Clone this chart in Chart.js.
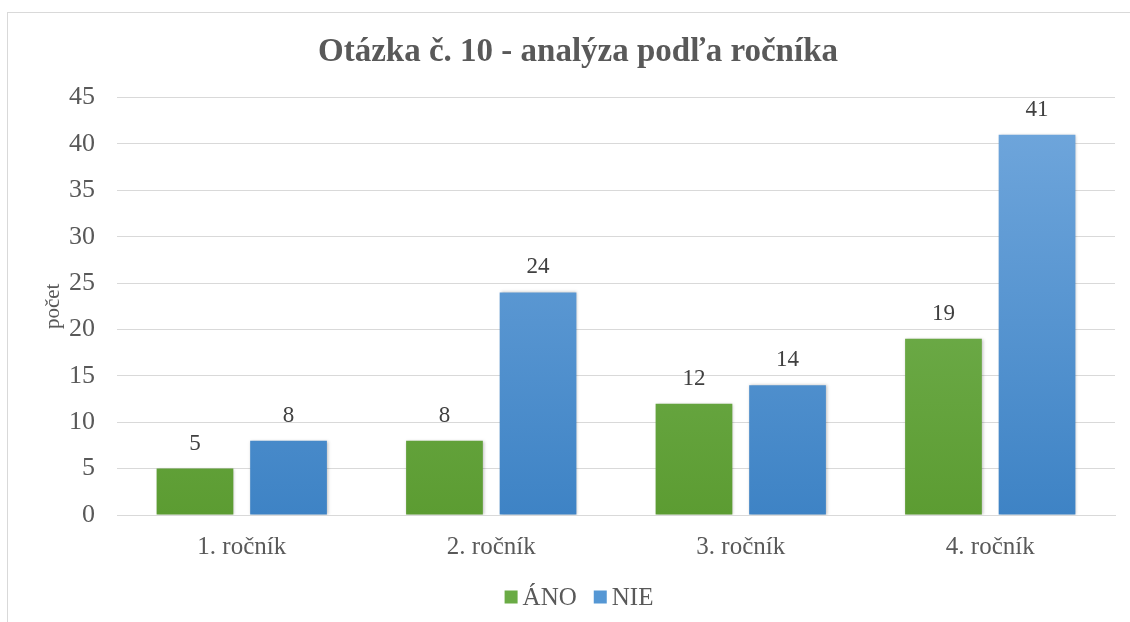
<!DOCTYPE html>
<html>
<head>
<meta charset="utf-8">
<script src="https://cdn.jsdelivr.net/npm/chart.js@4/dist/chart.umd.min.js"></script>
<style>
  html, body { margin: 0; padding: 0; background: #fff; overflow: hidden; }
  #wrap { position: relative; width: 1130px; height: 622px; }
  #frame { position: absolute; left: 7px; top: 12px; width: 1200px; height: 700px; border-top: 1.5px solid #d9d9d9; border-left: 1.5px solid #d9d9d9; }
  canvas { position: absolute; left: 0; top: 0; }
</style>
</head>
<body>
<div id="wrap">
  <div id="frame"></div>
  <canvas id="c" width="1130" height="622"></canvas>
</div>
<script>
const titleText = "Otázka č. 10 - analýza podľa ročníka";
const yAxisTitle = "počet";
const categories = ["1. ročník", "2. ročník", "3. ročník", "4. ročník"];
const seriesNames = ["ÁNO", "NIE"];
const anoValues = [5, 8, 12, 19];
const nieValues = [8, 24, 14, 41];
const legendColors = ['#6aab45', '#5597d4'];

const FONT = "'Liberation Serif', 'Times New Roman', serif";
const TEXT = "#595959";

function gradFor(ctx, topColor, bottomColor, fallback) {
  const chart = ctx.chart;
  const area = chart.chartArea;
  if (!area) return fallback;
  const g = chart.ctx.createLinearGradient(0, area.top, 0, area.bottom);
  g.addColorStop(0, topColor);
  g.addColorStop(1, bottomColor);
  return g;
}

const decorations = {
  id: 'decorations',
  beforeDatasetsDraw(chart) {
    const c = chart.ctx;
    c.save();
    c.shadowColor = 'rgba(0,0,0,0.25)';
    c.shadowBlur = 3;
    c.shadowOffsetX = 1;
    c.shadowOffsetY = 0;
  },
  afterDatasetsDraw(chart) {
    chart.ctx.restore();
    const c = chart.ctx;
    c.save();
    // data labels
    c.font = "23px " + FONT;
    c.fillStyle = "#404040";
    c.textAlign = "center";
    c.textBaseline = "alphabetic";
    chart.data.datasets.forEach((ds, i) => {
      const meta = chart.getDatasetMeta(i);
      meta.data.forEach((bar, j) => {
        c.fillText(String(ds.data[j]), bar.x, bar.y - 19);
      });
    });
    // legend
    c.font = "25px " + FONT;
    c.textAlign = "left";
    c.textBaseline = "middle";
    const box = 13, gapBoxText = 5, gapItems = 17;
    const items = chart.data.datasets.map((ds, i) => ({ text: ds.label, color: legendColors[i], w: c.measureText(ds.label).width }));
    let total = 0;
    items.forEach((it, i) => { total += box + gapBoxText + it.w + (i < items.length - 1 ? gapItems : 0); });
    let x = 579 - total / 2;
    const cy = 597;
    items.forEach((it) => {
      c.fillStyle = it.color;
      c.fillRect(x, cy - box / 2, box, box);
      x += box + gapBoxText;
      c.fillStyle = TEXT;
      c.fillText(it.text, x, cy + 1);
      x += it.w + gapItems;
    });
    c.restore();
  }
};

new Chart(document.getElementById('c'), {
  type: 'bar',
  data: {
    labels: categories,
    datasets: [
      {
        label: seriesNames[0],
        data: anoValues,
        backgroundColor: (ctx) => gradFor(ctx, '#7db95e', '#5c9c32', '#6aab45'),
        borderWidth: 0,
        barPercentage: 0.82,
        categoryPercentage: 0.75
      },
      {
        label: seriesNames[1],
        data: nieValues,
        backgroundColor: (ctx) => gradFor(ctx, '#72a8dd', '#3e83c5', '#5597d4'),
        borderWidth: 0,
        barPercentage: 0.82,
        categoryPercentage: 0.75
      }
    ]
  },
  options: {
    responsive: false,
    animation: false,
    devicePixelRatio: 1,
    layout: { padding: { left: 41, right: 15, top: 0, bottom: 43 } },
    plugins: {
      title: {
        display: true,
        text: titleText,
        color: TEXT,
        font: { family: FONT, size: 33, weight: 'bold' },
        padding: { top: 33, bottom: 25 }
      },
      legend: { display: false },
      tooltip: { enabled: false }
    },
    scales: {
      x: {
        grid: { display: false, drawTicks: false },
        border: { display: true, color: '#d9d9d9', width: 1 },
        ticks: { color: TEXT, font: { family: FONT, size: 25 }, padding: 17 }
      },
      y: {
        min: 0,
        max: 45,
        afterFit(scale) { scale.width = 76; },
        ticks: { stepSize: 5, color: TEXT, font: { family: FONT, size: 26 }, padding: 22 },
        grid: { color: '#d9d9d9', drawTicks: false },
        border: { display: false },
        title: {
          display: true,
          text: yAxisTitle,
          color: TEXT,
          font: { family: FONT, size: 21 },
          padding: { top: 0, bottom: 4 }
        }
      }
    }
  },
  plugins: [decorations]
});
</script>
</body>
</html>
